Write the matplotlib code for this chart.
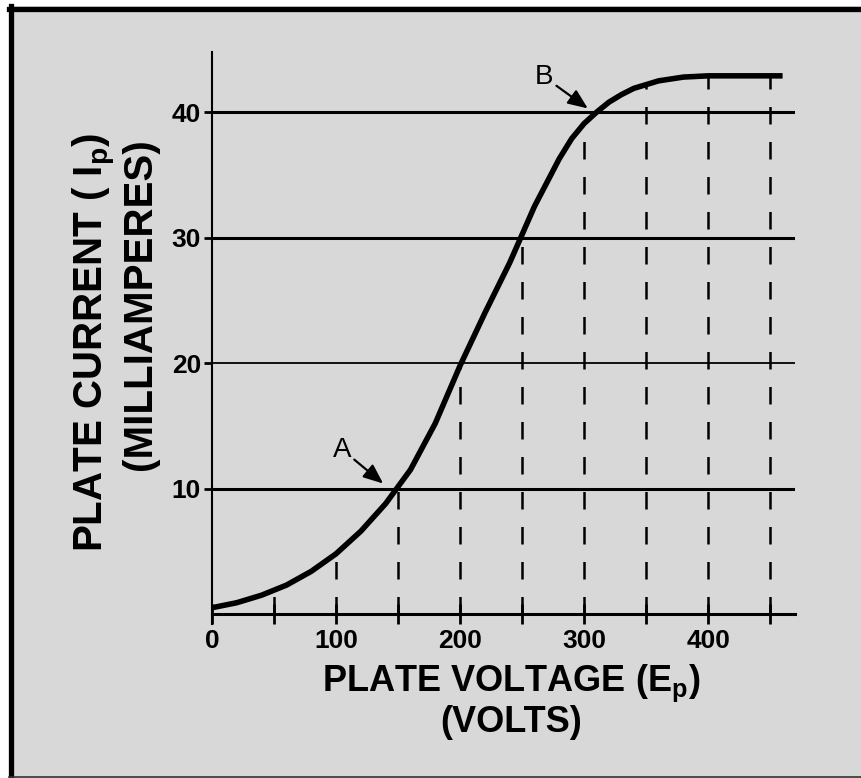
import numpy as np
import matplotlib.pyplot as plt
from matplotlib.patches import Rectangle
from matplotlib.lines import Line2D

# --- values ---
volts = [0, 20, 40, 60, 80, 100, 120, 140, 160, 180, 200, 220, 240, 260,
         280, 290, 300, 310, 320, 330, 340, 360, 380, 400, 420, 460]
current = [0.5, 0.9, 1.5, 2.3, 3.4, 4.8, 6.6, 8.8, 11.5, 15.2, 19.8, 24.0,
           28.0, 32.5, 36.3, 37.9, 39.1, 40.0, 40.8, 41.4, 41.9, 42.5, 42.8,
           42.9, 42.9, 42.9]
grid_volts = [50, 100, 150, 200, 250, 300, 350, 400, 450]
grid_current = [10, 20, 30, 40]
xticks = [0, 50, 100, 150, 200, 250, 300, 350, 400, 450]
xtick_labels = ["0", "", "100", "", "200", "", "300", "", "400", ""]
ytick_labels = ["10", "20", "30", "40"]

bg = "#d8d8d8"
plt.rcParams["font.family"] = ["Liberation Sans", "DejaVu Sans"]

fig = plt.figure(figsize=(8.62, 7.78), dpi=100, facecolor="white")
W, H = 862, 778
# grey panel
fig.patches.append(Rectangle((9 / W, 0), 853 / W, 772 / H,
                             transform=fig.transFigure, facecolor=bg,
                             edgecolor="none", zorder=-5))
# frame: thick black left/top, thin dark bottom
fig.lines.append(Line2D([11.5 / W, 11.5 / W], [0, 1 - 6 / H], color="black",
                        lw=3.8, transform=fig.transFigure, zorder=10))
fig.lines.append(Line2D([9 / W, 1], [1 - 8.5 / H, 1 - 8.5 / H], color="black",
                        lw=3.8, transform=fig.transFigure, zorder=10))
fig.lines.append(Line2D([9 / W, 1], [1 / H, 1 / H], color="#333333",
                        lw=1.2, transform=fig.transFigure, zorder=10))

ax = fig.add_axes([212 / W, 1 - 614 / H, (795 - 212) / W, (614 - 52) / H])
ax.set_facecolor("none")
ax.set_xlim(0, 470)
ax.set_ylim(0, 44.8)

# horizontal grid lines
for g in grid_current:
    ax.axhline(g, color="black", lw=1.3 if g == 20 else 2.2, zorder=2)

# vertical dashed lines up to the curve
for v in grid_volts:
    top = np.interp(v, volts, current)
    ax.plot([v, v], [0, top], color="black", lw=1.8, dashes=(7, 7), zorder=2)

ax.plot(volts, current, color="black", lw=4, solid_capstyle="butt",
        solid_joinstyle="round", zorder=3)

for s in ["top", "right"]:
    ax.spines[s].set_visible(False)
ax.spines["bottom"].set_linewidth(2.2)
ax.spines["left"].set_linewidth(1.5)
ax.spines["left"].set_bounds(-0.8, 44.8)
ax.spines["left"].set_zorder(4)

ax.set_xticks(xticks)
ax.set_xticklabels(xtick_labels, fontweight="bold")
ax.set_yticks(grid_current)
ax.set_yticklabels(ytick_labels, fontweight="bold")
ax.tick_params(axis="x", direction="inout", length=14, width=2, labelsize=19, pad=4)
ax.tick_params(axis="y", direction="out", length=6, width=2, labelsize=19, pad=2)

# axis titles
fig.text(511 / W, 1 - 683 / H, r"PLATE VOLTAGE (E$\mathregular{_p}$)",
         ha="center", va="center", fontsize=26, fontweight="bold")
fig.text(511 / W, 1 - 722 / H, "(VOLTS)", ha="center", va="center",
         fontsize=26, fontweight="bold")
fig.text(95 / W, 1 - 342 / H, r"PLATE CURRENT ( I$\mathregular{_p}$)",
         ha="center", va="center", rotation=90, fontsize=29, fontweight="bold")
fig.text(140 / W, 1 - 304 / H, "(MILLIAMPERES)", ha="center", va="center",
         rotation=90, fontsize=29, fontweight="bold")

# A and B markers
arrow = dict(arrowstyle="-|>,head_length=0.6,head_width=0.25", color="black",
             lw=1.6, shrinkA=0, shrinkB=0)
ax.annotate("A", xy=(138, 10.4), xytext=(105, 13.1), fontsize=20,
            ha="center", va="center", arrowprops=arrow)
ax.annotate("B", xy=(303, 40.3), xytext=(268, 42.8), fontsize=20,
            ha="center", va="center", arrowprops=arrow)

fig.savefig("out.png", dpi=100, facecolor="white")
